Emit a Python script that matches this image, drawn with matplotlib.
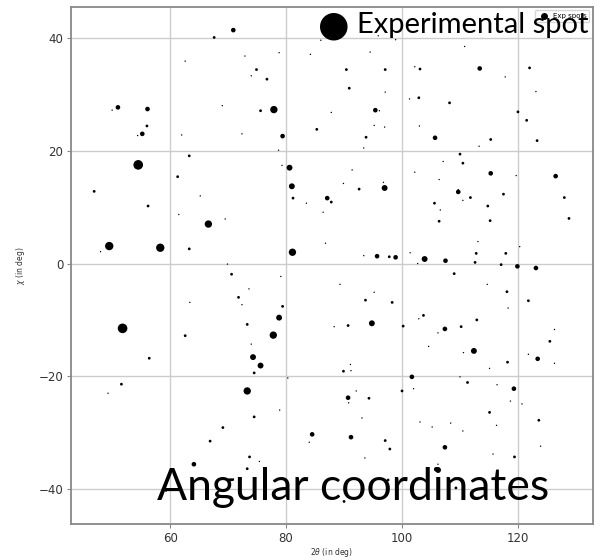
import numpy as np
import matplotlib.pyplot as plt
from matplotlib.lines import Line2D

# Spot positions (2theta, chi in degrees) and marker areas, grouped by spot strength
tth_xl = [54.5, 51.8]
chi_xl = [17.5, -11.5]

tth_l = [49.5, 58.3]
chi_l = [3.1, 2.8]

tth_ml = [77.9, 66.6, 81.1, 77.8, 73.3]
chi_ml = [27.3, 7.0, 2.0, -12.7, -22.6]

tth_m = [80.6, 97.0, 94.8, 112.4, 103.9, 81.0, 74.3, 75.6, 78.8]
chi_m = [17.0, 13.4, -10.6, -15.5, 0.8, 13.7, -16.6, -18.1, -9.6]

tth_s = [70.9, 56.1, 55.2, 51.0, 95.4, 79.4, 113.4, 105.7, 115.3, 126.5,
         109.7, 87.1, 95.7, 98.9, 119.9, 123.1, 107.5, 107.4, 123.4, 101.7,
         90.7, 84.5, 91.2, 107.4, 119.3, 64.1, 105.9]
chi_s = [41.4, 27.4, 23.0, 27.7, 27.2, 22.6, 34.6, 22.3, 16.0, 15.5,
         12.7, 11.6, 1.3, 1.1, -0.5, -0.8, 0.5, -11.6, -16.9, -20.1,
         -23.8, -30.3, -30.8, -32.6, -22.2, -35.6, -36.5]

tth_xs = [67.6, 56.0, 63.3, 61.3, 74.9, 76.7, 90.4, 97.1, 90.9, 103.1,
          102.9, 75.6, 85.3, 93.8, 92.6, 122.0, 108.2, 120.0, 121.5, 115.3,
          123.3, 110.0, 110.5, 46.9, 56.2, 63.3, 70.6, 71.8, 62.6, 56.4,
          81.2, 87.8, 97.8, 79.4, 73.3, 93.7, 98.3, 103.7, 90.7, 100.2,
          105.6, 111.8, 117.5, 114.8, 106.4, 115.2, 128.0, 128.8, 112.8, 117.9,
          112.6, 117.1, 109.0, 118.1, 121.8, 112.9, 110.2, 118.2, 125.5, 51.6,
          69.1, 66.9, 74.5, 74.5, 89.9, 100.0, 94.3, 97.1, 97.9, 73.7,
          73.3, 111.3, 115.1, 123.6, 119.4, 97.6, 90.0, 109.3]
chi_xs = [40.1, 24.4, 19.1, 15.4, 34.4, 32.7, 34.4, 34.4, 31.1, 34.5,
          29.4, 27.1, 23.8, 22.4, 13.2, 34.7, 28.5, 26.9, 25.4, 22.0,
          21.8, 19.4, 17.8, 12.8, 10.2, 2.6, -1.9, -6.0, -12.8, -16.8,
          11.6, 10.9, 1.2, -7.6, -10.8, -6.5, -6.9, -9.2, -11.0, -11.1,
          10.7, 11.7, 12.3, 10.2, 7.5, 7.6, 11.7, 8.0, 1.8, 1.8,
          0.2, -0.2, -1.8, -5.0, -6.6, -10.0, -11.2, -17.5, -13.8, -21.4,
          -29.1, -31.5, -19.4, -27.2, -19.1, -22.6, -23.9, -31.4, -32.9, -34.3,
          -36.4, -21.1, -26.4, -27.8, -34.3, -38.4, -42.2, -39.8]

tth_t = [62.6, 69.0, 50.0, 54.4, 62.0, 72.9, 78.8, 74.0, 84.2, 86.0,
         94.5, 95.9, 98.9, 97.1, 102.2, 101.3, 87.8, 96.1, 72.4, 95.2,
         97.0, 93.4, 103.0, 78.7, 79.3, 91.4, 102.2, 89.9, 96.8, 110.8,
         117.8, 123.1, 113.3, 107.1, 119.7, 106.4, 109.7, 65.2, 61.5, 69.5,
         48.0, 69.9, 63.4, 83.5, 86.4, 86.8, 93.4, 101.4, 102.7, 79.1,
         73.6, 72.4, 74.0, 89.3, 95.2, 102.9, 88.3, 104.6, 91.1, 110.5,
         106.6, 113.1, 120.3, 114.7, 118.3, 106.2, 110.6, 115.1, 126.3, 121.8,
         126.3, 49.3, 59.3, 80.3, 78.9, 91.2, 102.0, 92.1, 90.8, 93.1,
         103.1, 84.0, 93.6, 75.4, 110.0, 116.4, 118.7, 120.7, 105.2, 108.4,
         110.5, 116.3, 106.2, 123.9, 115.7]
chi_t = [35.9, 28.0, 27.2, 22.7, 22.8, 36.8, 37.4, 33.3, 37.1, 39.6,
         37.5, 40.4, 39.7, 30.4, 34.9, 29.2, 26.8, 27.1, 23.0, 24.5,
         24.2, 20.5, 24.4, 20.1, 17.4, 16.6, 16.2, 14.2, 14.4, 38.5,
         33.1, 30.5, 20.8, 18.1, 15.6, 14.9, 13.1, 12.0, 8.7, 7.9,
         2.1, -0.1, -6.9, 10.7, 9.1, 3.6, 1.4, 1.9, 0.0, -2.3,
         -4.5, -7.3, -14.3, -3.7, -5.1, -9.8, -11.2, -14.7, -17.9, 11.2,
         9.5, 3.9, 3.0, -3.7, -7.9, -12.3, -15.8, -18.6, -11.7, -16.1,
         -17.7, -23.0, -40.4, -20.3, -26.0, -19.0, -22.2, -22.6, -24.7, -27.4,
         -28.1, -31.7, -34.5, -35.1, -20.1, -21.5, -24.4, -24.9, -29.0, -28.3,
         -29.7, -28.7, -35.6, -32.4, -33.8]

groups = [(tth_xl, chi_xl, 48), (tth_l, chi_l, 36), (tth_ml, chi_ml, 28),
          (tth_m, chi_m, 18), (tth_s, chi_s, 11), (tth_xs, chi_xs, 4),
          (tth_t, chi_t, 1.0)]

fig = plt.figure(figsize=(6.03, 5.6), dpi=100)
ax = fig.add_axes([0.1177, 0.0643, 0.8653, 0.9232])

for tth, chi, s in groups:
    ax.scatter(tth, chi, s=s, c='black', edgecolors='none', zorder=3)

ax.set_xlim(42.9, 132.9)
ax.set_ylim(-46.2, 45.5)
ax.set_xticks([60, 80, 100, 120])
ax.set_yticks([-40, -20, 0, 20, 40])
ax.grid(True, color='#cccccc', linewidth=1.0, zorder=0)
for sp in ax.spines.values():
    sp.set_color('#888888')
    sp.set_linewidth(1.3)
ax.tick_params(labelsize=8.5, colors='#333333', length=3, color='#888888', pad=2.5)

ax.set_xlabel(r'2$\theta$ (in deg)', fontsize=5.5, color='#333333', labelpad=1)
ax.set_ylabel(r'$\chi$ (in deg)', fontsize=5.5, color='#333333', labelpad=8)

spot_handle = Line2D([], [], marker='o', color='black', linestyle='none', markersize=4)
ax.legend([spot_handle], ['Exp spots'], loc='upper right', fontsize=5,
          handletextpad=0.2, borderpad=0.4, framealpha=0.8)

# overlay captions
fig.text(0.554, 0.955, '\u25CF', fontsize=26, ha='center', va='center', color='black')
fig.text(0.592, 0.955, 'Experimental spot', fontsize=21, family='Lato',
         ha='left', va='center', color='black')
fig.text(0.26, 0.129, 'Angular coordinates', fontsize=32, family='Lato',
         ha='left', va='center', color='black')

fig.savefig('out.png', dpi=100)
